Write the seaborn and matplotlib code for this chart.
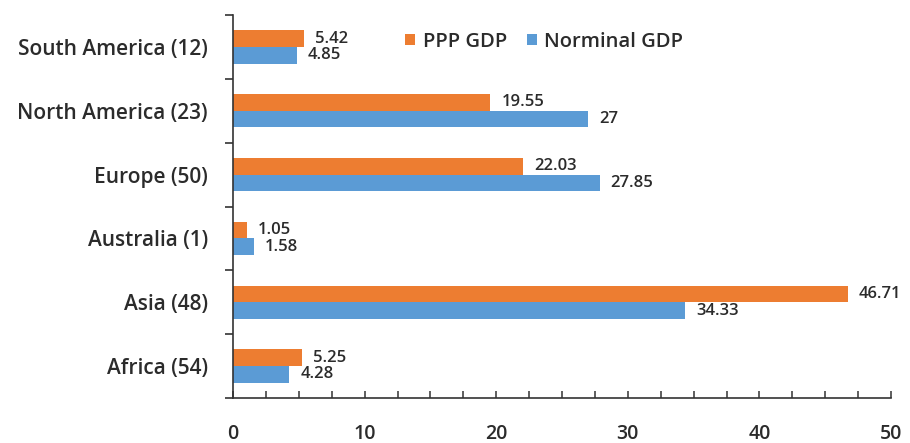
import matplotlib
matplotlib.use("Agg")
import matplotlib.pyplot as plt
from matplotlib.ticker import FixedLocator, MultipleLocator
import seaborn as sns
import pandas as pd

regions = ["South America (12)", "North America (23)", "Europe (50)",
           "Australia (1)", "Asia (48)", "Africa (54)"]
ppp_gdp = [5.42, 19.55, 22.03, 1.05, 46.71, 5.25]
nominal_gdp = [4.85, 27, 27.85, 1.58, 34.33, 4.28]
series = ["PPP GDP", "Norminal GDP"]
x_ticks = [0, 10, 20, 30, 40, 50]

df = pd.DataFrame({
    "region": regions * 2,
    "value": ppp_gdp + nominal_gdp,
    "series": [series[0]] * len(regions) + [series[1]] * len(regions),
})

sns.set_style("white")
plt.rcParams["font.family"] = ["Open Sans", "DejaVu Sans"]
plt.rcParams["font.weight"] = 600

text_color = "#2b2b2b"
fig = plt.figure(figsize=(9.10, 4.43), dpi=100)
ax = fig.add_axes([233 / 910, 45 / 443, 658 / 910, 383 / 443])

palette = {"PPP GDP": "#ED7D31", "Norminal GDP": "#5B9BD5"}
sns.barplot(data=df, y="region", x="value", hue="series", order=regions,
            hue_order=series, palette=palette, orient="h", width=0.52,
            saturation=1, linewidth=0, ax=ax, errorbar=None)

# value labels at the bar ends
for container in ax.containers:
    ax.bar_label(container, labels=[f"{v:g}" for v in container.datavalues],
                 padding=8, fontsize=12, color=text_color, fontweight=600)

ax.set_xlim(0, 50)
ax.set_ylim(len(regions) - 0.5, -0.5)
ax.set_xlabel("")
ax.set_ylabel("")

# category boundaries carry the y ticks, labels sit at centres
ax.yaxis.set_major_locator(FixedLocator([i - 0.5 for i in range(len(regions) + 1)]))
ax.yaxis.set_minor_locator(FixedLocator(list(range(len(regions)))))
ax.set_yticklabels([], minor=False)
ax.set_yticklabels(regions, minor=True, fontweight=600)
ax.tick_params(axis="y", which="major", direction="out", length=6, width=1.2,
               color="#333333", left=True)
ax.tick_params(axis="y", which="minor", length=0, pad=18, labelsize=15,
               labelcolor=text_color)

ax.xaxis.set_major_locator(FixedLocator(x_ticks))
ax.xaxis.set_minor_locator(MultipleLocator(2.5))
ax.set_xticklabels([str(t) for t in x_ticks], fontweight=600)
ax.tick_params(axis="x", which="both", direction="in", length=5, width=1.1,
               color="#333333", bottom=True, pad=19, labelsize=14,
               labelcolor=text_color)

for side in ["top", "right"]:
    ax.spines[side].set_visible(False)
for side in ["left", "bottom"]:
    ax.spines[side].set_color("#333333")
    ax.spines[side].set_linewidth(1.2)

leg = ax.legend(loc="center", bbox_to_anchor=(0.473, 0.93), ncol=2,
                frameon=False, prop={"size": 14.5, "weight": 600},
                handlelength=0.5, handleheight=0.5, handletextpad=0.35,
                columnspacing=1.0, labelcolor=text_color)

fig.savefig("out.png", dpi=100)
